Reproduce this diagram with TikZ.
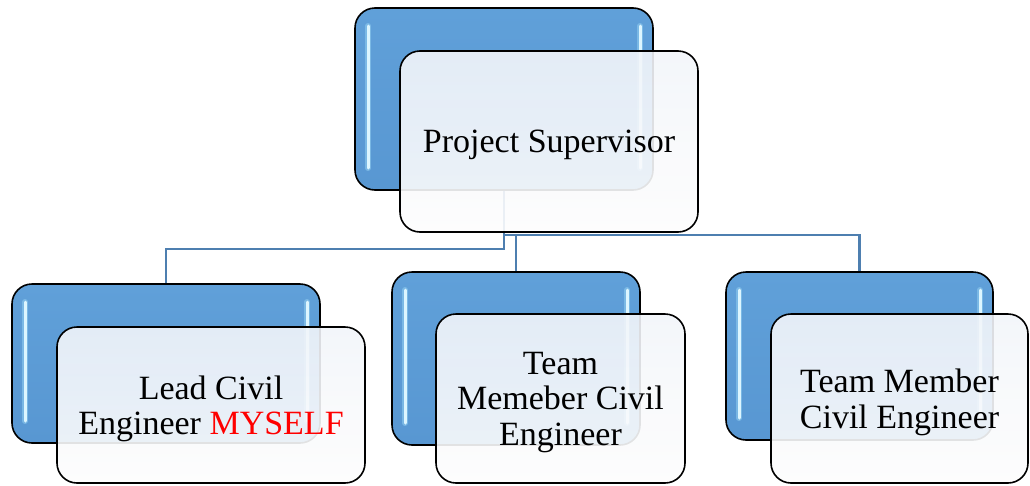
\documentclass[tikz,border=0pt]{standalone}
\usepackage{fontspec}
\setmainfont{Liberation Serif}
\usetikzlibrary{backgrounds}

\definecolor{boxbluetop}{HTML}{60A0D9}
\definecolor{boxbluebot}{HTML}{5897D2}
\definecolor{glintcol}{HTML}{DDF6FF}
\definecolor{glowcol}{HTML}{8FCBEF}
\definecolor{cardtop}{HTML}{F2F5FA}
\definecolor{cardbot}{HTML}{FDFDFD}
\definecolor{linkblue}{HTML}{4E7FB0}
\definecolor{myred}{HTML}{FF0000}

\begin{document}
\begin{tikzpicture}[x=1pt,y=-1pt,
glint/.style = {draw=glintcol, line width=3pt, line cap=round,
  preaction={draw=glowcol, line width=6pt, line cap=round, opacity=0.6}},
back/.style = {draw=black, line width=1.6pt, rounded corners=20pt, inner sep=0pt,
  top color=boxbluetop, bottom color=boxbluebot,
  path picture={
    \draw[glint] ([xshift=13pt,yshift=-18pt]path picture bounding box.north west)
      -- ([xshift=13pt,yshift=22pt]path picture bounding box.south west);
    \draw[glint] ([xshift=-13pt,yshift=-18pt]path picture bounding box.north east)
      -- ([xshift=-13pt,yshift=22pt]path picture bounding box.south east);
  }},
front/.style = {draw=black, line width=1.6pt, rounded corners=20pt, inner sep=0pt,
  top color=cardtop, bottom color=cardbot, fill opacity=0.9, draw opacity=1,
  text opacity=1, align=center, text depth=-9pt,
  font=\fontsize{34}{35.5}\selectfont},
link/.style = {draw=linkblue, line width=2.2pt}]
\useasboundingbox (0,0) rectangle (1030,485);

% blue back cards
\node[back, minimum width=298pt, minimum height=182pt] (supback) at (504,99) {};
\node[back, minimum width=308pt, minimum height=159pt] (leadback) at (166,363.5) {};
\node[back, minimum width=248pt, minimum height=173pt] (midback) at (516,358.5) {};
\node[back, minimum width=267pt, minimum height=168pt] (rightback) at (859.5,356) {};

% white front cards
\node[front, minimum width=298pt, minimum height=181pt] (sup) at (549,141.5) {Project Supervisor};
\node[front, minimum width=308pt, minimum height=156pt] (lead) at (211,405)
  {Lead Civil\\Engineer \textcolor{myred}{MYSELF}};
\node[front, minimum width=249pt, minimum height=169pt] (mid) at (560.5,398.5)
  {Team\\Memeber Civil\\Engineer};
\node[front, minimum width=257pt, minimum height=169pt] (right) at (899.5,398.5)
  {Team Member\\Civil Engineer};

% connectors
\begin{scope}[on background layer]
\draw[link] (supback.south) -- ++(0,58) -| (leadback.north);
\draw[link] (supback.south) -- ++(0,44) -| (midback.north);
\draw[link] (supback.south) -- ++(0,44) -| (rightback.north);
\end{scope}
\end{tikzpicture}
\end{document}
